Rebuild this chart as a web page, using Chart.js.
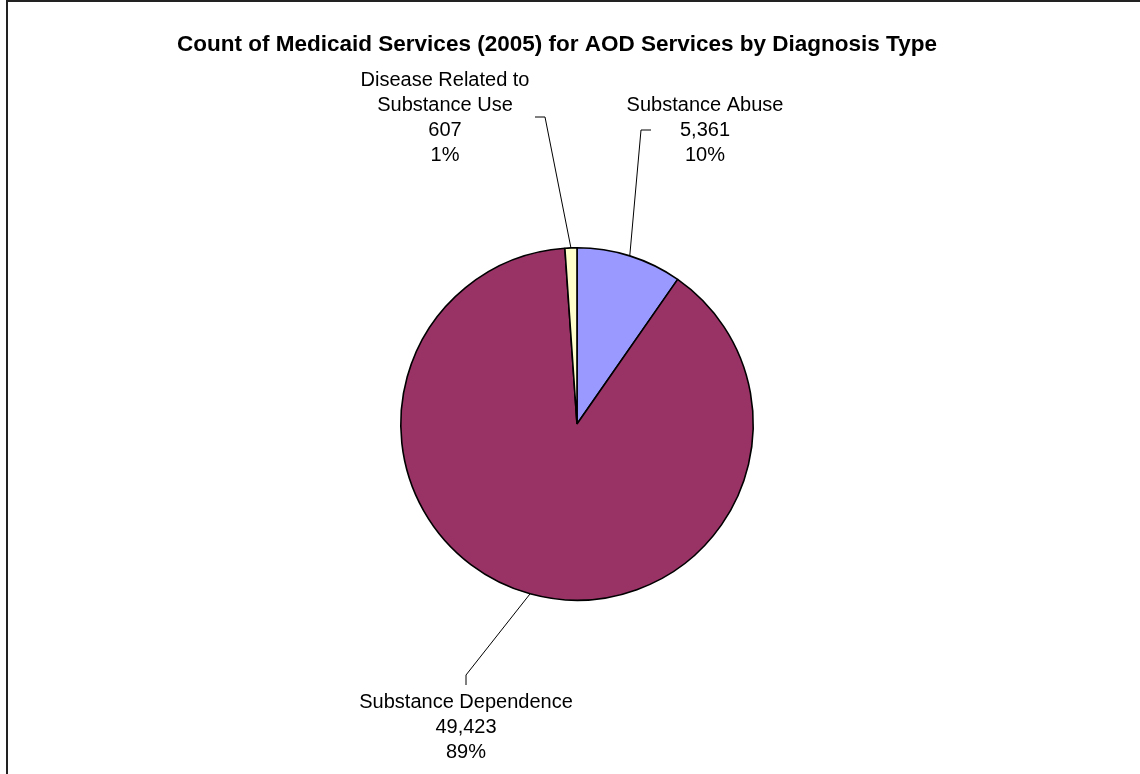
<!DOCTYPE html>
<html>
<head>
<meta charset="utf-8">
<script src="https://cdn.jsdelivr.net/npm/chart.js@4/dist/chart.umd.min.js"></script>
<style>
  html, body { margin: 0; padding: 0; background: #fff; }
  #wrap { width: 1140px; height: 774px; position: relative; }
</style>
</head>
<body>
<div id="wrap"><canvas id="chart" width="1140" height="774"></canvas></div>
<script>
const categories = ['Substance Abuse', 'Substance Dependence', 'Disease Related to Substance Use'];
const counts = [5361, 49423, 607];
const percentLabels = ['10%', '89%', '1%'];
const sliceColors = ['#9999FF', '#993366', '#FFFFCC'];
const chartTitle = 'Count of Medicaid Services (2005) for AOD Services by Diagnosis Type';

// label text lines per slice (name may wrap)
const nameLines = [['Substance Abuse'], ['Substance Dependence'], ['Disease Related to', 'Substance Use']];

// leader line layout: elbow, line end and text centre, relative to the pie centre
const labelLayout = [
  { elbow: [64, -294], end: [74, -294], text: [128, -319] },
  { elbow: [-111, 251], end: [-111, 261], text: [-111, 278] },
  { elbow: [-32, -307], end: [-42, -307], text: [-132, -344] }
];

const extras = {
  id: 'extras',
  afterDraw(chart) {
    const ctx = chart.ctx;
    ctx.save();
    // frame
    ctx.strokeStyle = '#222';
    ctx.lineWidth = 2;
    ctx.beginPath();
    ctx.moveTo(7, 774);
    ctx.lineTo(7, 1);
    ctx.lineTo(1140, 1);
    ctx.stroke();

    ctx.fillStyle = '#000';
    ctx.textAlign = 'center';
    ctx.textBaseline = 'middle';
    ctx.font = 'bold 22.5px "Liberation Sans", Arial, sans-serif';
    ctx.fillText(chartTitle, 557, 45);

    const meta = chart.getDatasetMeta(0);
    ctx.font = '20px "Liberation Sans", Arial, sans-serif';
    ctx.lineWidth = 1;
    ctx.strokeStyle = '#000';
    meta.data.forEach((arc, i) => {
      const cx = arc.x, cy = arc.y;
      const mid = (arc.startAngle + arc.endAngle) / 2;
      const ax = cx + Math.cos(mid) * arc.outerRadius;
      const ay = cy + Math.sin(mid) * arc.outerRadius;
      const L = labelLayout[i];
      ctx.beginPath();
      ctx.moveTo(ax, ay);
      ctx.lineTo(cx + L.elbow[0], cy + L.elbow[1]);
      ctx.lineTo(cx + L.end[0], cy + L.end[1]);
      ctx.stroke();
      const lines = nameLines[i].concat([counts[i].toLocaleString('en-US'), percentLabels[i]]);
      const first = cy + L.text[1];
      lines.forEach((t, k) => ctx.fillText(t, cx + L.text[0], first + k * 25));
    });
    ctx.restore();
  }
};

new Chart(document.getElementById('chart'), {
  type: 'pie',
  data: {
    labels: categories,
    datasets: [{
      data: counts,
      backgroundColor: sliceColors,
      borderColor: '#000',
      borderWidth: 1.6
    }]
  },
  options: {
    responsive: false,
    animation: false,
    layout: { padding: { left: 400, right: 386, top: 247, bottom: 173 } },
    plugins: {
      legend: { display: false },
      tooltip: { enabled: false }
    }
  },
  plugins: [extras]
});
</script>
</body>
</html>
